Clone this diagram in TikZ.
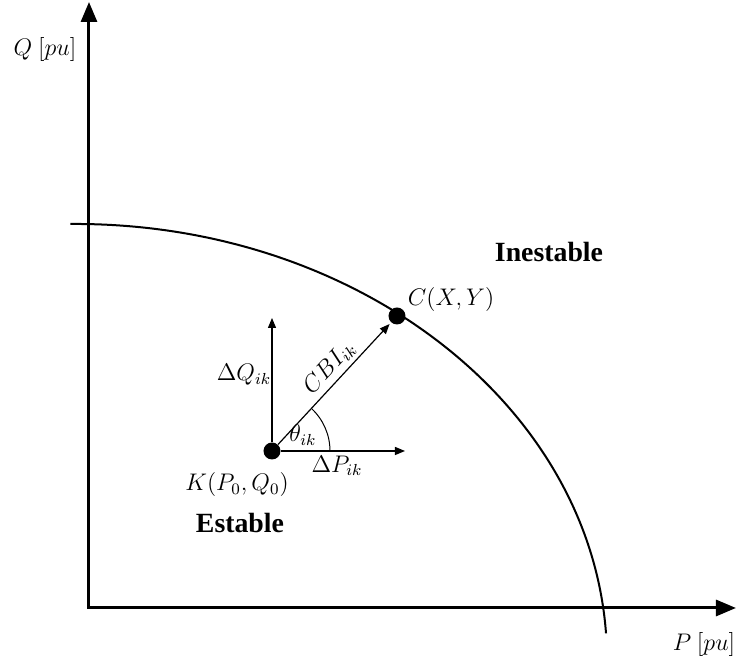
\documentclass[tikz,border=0pt]{standalone}
\usepackage{fontspec}
\setmainfont{Liberation Serif}
\usetikzlibrary{arrows.meta,angles,quotes,calc}

\begin{document}
\begin{tikzpicture}[x=0.5pt, y=0.5pt, >=Stealth,
    dot/.style={circle, fill=black, inner sep=0pt, minimum size=8.5pt},
    axis/.style={line width=1.5pt},
    vec/.style={line width=0.6pt, -{Triangle[length=5pt,width=4pt]}},
    lbl/.style={font=\fontsize{11.5}{13}\selectfont},
    region/.style={font=\fontsize{13.9}{16}\selectfont\bfseries}]
    \useasboundingbox (0,0) rectangle (736,657);

    % Axes
    \coordinate (O) at (89,49);
    \coordinate (Ytop) at (89,655);
    \coordinate (Xend) at (736,49);
    \draw[axis, {Triangle[length=10pt,width=8pt]}-{Triangle[length=10pt,width=8pt]}] (Ytop) -- (O) -- (Xend);
    \node[lbl] (Qlab) at (45,607) {$Q\ [pu]$};
    \node[lbl] (Plab) at (704,12) {$P\ [pu]$};

    % Stability limit
    \draw[line width=1pt] (70.4,433) arc[start angle=90.5, end angle=3.5, x radius=532, y radius=436];
    \node[region] (inest) at (549,405) {Inestable};
    \node[region] (est) at (240,134) {Estable};

    % Operating point and critical point
    \coordinate (k) at (272,206);
    \coordinate (c) at (397,341);
    \coordinate (dq) at (272,339);
    \coordinate (dp) at (405,206);
    \node[dot] (K) at (k) {};
    \node[dot] (C) at (c) {};
    \node[lbl] (Klab) at (237,172) {$K(P_0,Q_0)$};
    \node[lbl] (Clab) at (451,357) {$C(X,Y)$};

    % Vectors
    \draw[vec] (K) -- (dq);
    \draw[vec] (K) -- (dp);
    \draw[vec, shorten >=1pt] (K) -- (C) node[lbl, sloped, above, pos=0.55, inner sep=2pt] {$CBI_{ik}$};
    \node[lbl] (dQlab) at (244,282) {$\Delta Q_{ik}$};
    \node[lbl] (dPlab) at (337,191) {$\Delta P_{ik}$};

    % Angle
    \pic[draw, line width=0.5pt, angle radius=29pt] {angle = dp--k--c};
    \node[lbl] (thlab) at (303,222) {$\theta_{ik}$};
\end{tikzpicture}
\end{document}
